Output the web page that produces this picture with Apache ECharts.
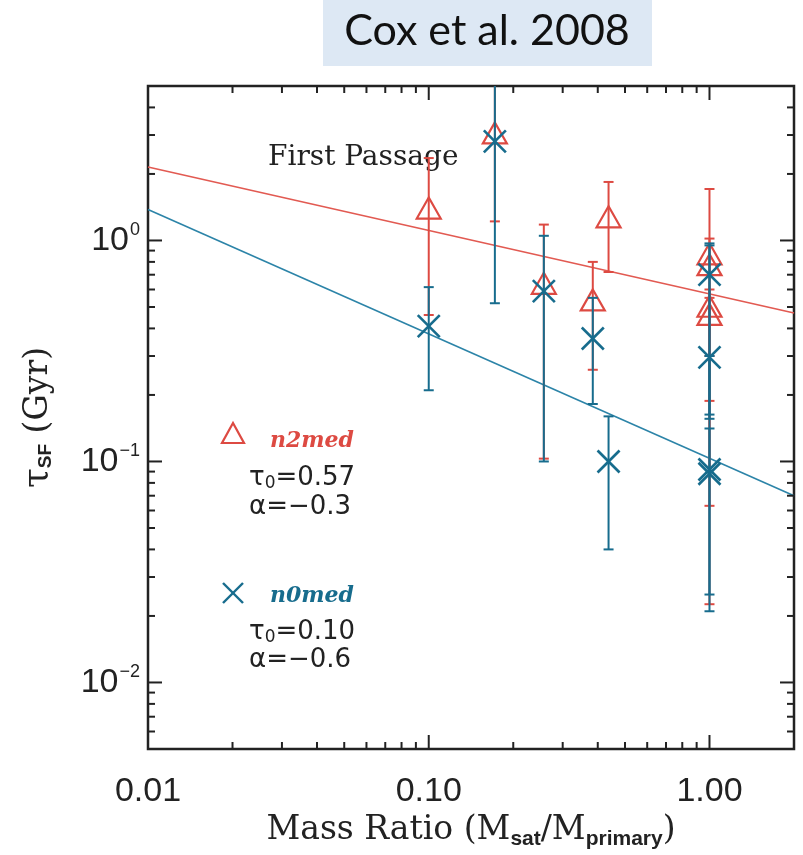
<!DOCTYPE html>
<html><head><meta charset="utf-8">
<script src="https://cdn.jsdelivr.net/npm/echarts@6/dist/echarts.min.js"></script>
<style>html,body{margin:0;padding:0;background:#fff}#c{width:803px;height:855px}</style>
</head><body><div id="c"></div>
<script>
// ---- data ----
const redX  = [0.10, 0.172, 0.257, 0.384, 0.437, 1.0, 1.0, 1.0, 1.0];
const redY  = [1.38, 3.02, 0.63, 0.53, 1.26, 0.857, 0.765, 0.496, 0.456];
const redLo = [0.46, 1.22, 0.103, 0.26, 0.72, 0.188, 0.063, 0.0226, 0.30];
const redHi = [2.36, 8.0, 1.18, 0.80, 1.84, 1.71, 1.02, 0.60, 0.55];

const blueX  = [0.10, 0.172, 0.257, 0.384, 0.437, 1.0, 1.0, 1.0, 1.0];
const blueY  = [0.41, 2.81, 0.59, 0.36, 0.10, 0.70, 0.296, 0.092, 0.088];
const blueLo = [0.21, 0.52, 0.10, 0.182, 0.04, 0.163, 0.156, 0.025, 0.021];
const blueHi = [0.615, 8.0, 1.05, 0.55, 0.16, 0.97, 0.95, 0.141, 0.30];

const redFitX = [0.01, 2.0];
const redFitY = [2.15, 0.47];
const blueFitX = [0.01, 2.0];
const blueFitY = [1.38, 0.07];

const xRange = [0.01, 2.0];
const yRange = [0.005, 5.0];
const xMajorTicks = [0.01, 0.1, 1];
const xTickLabels = ['0.01', '0.10', '1.00'];
const xMinorTicks = [0.02,0.03,0.04,0.05,0.06,0.07,0.08,0.09,0.2,0.3,0.4,0.5,0.6,0.7,0.8,0.9];
const yMajorTicks = [0.01, 0.1, 1];
const yTickExponents = ['−2', '−1', '0'];
const yMinorTicks = [0.006,0.007,0.008,0.009,0.02,0.03,0.04,0.05,0.06,0.07,0.08,0.09,0.2,0.3,0.4,0.5,0.6,0.7,0.8,0.9,2,3,4];

// ---- styling ----
const RED = '#dd4a42', BLUE = '#176c8d', RED_LINE = '#e25a52', BLUE_LINE = '#2c84a8';
const FRAME = '#222';

function nearPow(v, arr) {
  for (let i = 0; i < arr.length; i++) if (Math.abs(Math.log10(v) - Math.log10(arr[i])) < 1e-6) return i;
  return -1;
}

function errRender(color) {
  return function (params, api) {
    const x = api.value(0), lo = api.value(2), hi = api.value(3);
    const cs = params.coordSys;
    const pLo = api.coord([x, lo]), pHi = api.coord([x, hi]);
    const top = Math.max(pHi[1], cs.y), bot = Math.min(pLo[1], cs.y + cs.height);
    const ch = [{ type: 'line', shape: { x1: pLo[0], y1: bot, x2: pLo[0], y2: top }, style: { stroke: color, lineWidth: 2 } }];
    const cw = 5;
    if (pHi[1] >= cs.y) ch.push({ type: 'line', shape: { x1: pHi[0] - cw, y1: pHi[1], x2: pHi[0] + cw, y2: pHi[1] }, style: { stroke: color, lineWidth: 2 } });
    if (pLo[1] <= cs.y + cs.height) ch.push({ type: 'line', shape: { x1: pLo[0] - cw, y1: pLo[1], x2: pLo[0] + cw, y2: pLo[1] }, style: { stroke: color, lineWidth: 2 } });
    return { type: 'group', children: ch };
  };
}
function triRender(params, api) {
  const p = api.coord([api.value(0), api.value(1)]);
  return { type: 'polygon', shape: { points: [[p[0], p[1] - 12], [p[0] - 12, p[1] + 9], [p[0] + 12, p[1] + 9]] },
    style: { fill: 'none', stroke: RED, lineWidth: 2.2 } };
}
function xRender(params, api) {
  const p = api.coord([api.value(0), api.value(1)]);
  const s = 11;
  return { type: 'group', children: [
    { type: 'line', shape: { x1: p[0] - s, y1: p[1] - s, x2: p[0] + s, y2: p[1] + s }, style: { stroke: BLUE, lineWidth: 2.6 } },
    { type: 'line', shape: { x1: p[0] - s, y1: p[1] + s, x2: p[0] + s, y2: p[1] - s }, style: { stroke: BLUE, lineWidth: 2.6 } }
  ] };
}
function xTickRender(params, api) {
  const cs = params.coordSys;
  const px = api.coord([api.value(0), 1])[0];
  const len = api.value(1) ? 14 : 7;
  const b = cs.y + cs.height, t = cs.y;
  return { type: 'group', children: [
    { type: 'line', shape: { x1: px, y1: b, x2: px, y2: b - len }, style: { stroke: FRAME, lineWidth: 2 } },
    { type: 'line', shape: { x1: px, y1: t, x2: px, y2: t + len }, style: { stroke: FRAME, lineWidth: 2 } }
  ] };
}
function yTickRender(params, api) {
  const cs = params.coordSys;
  const py = api.coord([1, api.value(0)])[1];
  const len = api.value(1) ? 14 : 7;
  const l = cs.x, r = cs.x + cs.width;
  return { type: 'group', children: [
    { type: 'line', shape: { x1: l, y1: py, x2: l + len, y2: py }, style: { stroke: FRAME, lineWidth: 2 } },
    { type: 'line', shape: { x1: r, y1: py, x2: r - len, y2: py }, style: { stroke: FRAME, lineWidth: 2 } }
  ] };
}

const zip4 = (a, b, c, d) => a.map((v, i) => [v, b[i], c[i], d[i]]);
const xTickData = xMajorTicks.map(v => [v, 1]).concat(xMinorTicks.map(v => [v, 0]));
const yTickData = yMajorTicks.map(v => [v, 1]).concat(yMinorTicks.map(v => [v, 0]));

const serif = 'DejaVu Serif';
const sans = 'Liberation Sans';

const chart = echarts.init(document.getElementById('c'));
chart.setOption({
  animation: false,
  backgroundColor: '#fff',
  grid: { left: 148, right: 9, top: 86, bottom: 98, show: true, borderColor: FRAME, borderWidth: 2.5, backgroundColor: 'transparent' },
  xAxis: {
    type: 'log', logBase: 10, min: xRange[0], max: xRange[1],
    axisLine: { show: false }, axisTick: { show: false }, splitLine: { show: false },
    axisLabel: {
      margin: 26, fontFamily: sans, fontSize: 34, color: '#222',
      formatter: v => { const i = nearPow(v, xMajorTicks); return i < 0 ? '' : xTickLabels[i]; }
    },
    name: '{m|Mass Ratio (M}{s|sat}{m|/M}{s|primary}{m|)}',
    nameLocation: 'middle', nameGap: 62,
    nameTextStyle: {
      rich: {
        m: { fontFamily: serif, fontSize: 33, color: '#222', verticalAlign: 'middle' },
        s: { fontFamily: sans, fontWeight: 'bold', fontSize: 21, color: '#222', verticalAlign: 'middle', padding: [18, 0, 0, 0] }
      }
    }
  },
  yAxis: {
    type: 'log', logBase: 10, min: yRange[0], max: yRange[1],
    axisLine: { show: false }, axisTick: { show: false }, splitLine: { show: false },
    axisLabel: {
      margin: 8,
      formatter: v => { const i = nearPow(v, yMajorTicks); return i < 0 ? '' : '{b|10}{e|' + yTickExponents[i] + '}'; },
      rich: {
        b: { fontFamily: sans, fontSize: 34, color: '#222', verticalAlign: 'middle' },
        e: { fontFamily: sans, fontSize: 18, color: '#222', verticalAlign: 'middle', padding: [0, 0, 20, 1] }
      }
    },
    name: '{t|τ}{s|SF}{m| (Gyr)}',
    nameLocation: 'middle', nameGap: 92, nameRotate: 90,
    nameTextStyle: {
      rich: {
        t: { fontFamily: serif, fontSize: 36, color: '#222', verticalAlign: 'middle' },
        s: { fontFamily: sans, fontWeight: 'bold', fontSize: 19, color: '#222', verticalAlign: 'middle', padding: [16, 0, 0, 0] },
        m: { fontFamily: serif, fontSize: 33, color: '#222', verticalAlign: 'middle' }
      }
    }
  },
  series: [
    { type: 'line', data: redFitX.map((v, i) => [v, redFitY[i]]), symbol: 'none', lineStyle: { color: RED_LINE, width: 1.6 }, z: 2 },
    { type: 'line', data: blueFitX.map((v, i) => [v, blueFitY[i]]), symbol: 'none', lineStyle: { color: BLUE_LINE, width: 1.6 }, z: 2 },
    { type: 'custom', renderItem: errRender(RED), data: zip4(redX, redY, redLo, redHi), z: 3 },
    { type: 'custom', renderItem: triRender, data: zip4(redX, redY, redLo, redHi), z: 4 },
    { type: 'custom', renderItem: errRender(BLUE), data: zip4(blueX, blueY, blueLo, blueHi), z: 5 },
    { type: 'custom', renderItem: xRender, data: zip4(blueX, blueY, blueLo, blueHi), z: 6 },
    { type: 'custom', renderItem: xTickRender, data: xTickData, z: 7 },
    { type: 'custom', renderItem: yTickRender, data: yTickData, z: 7 }
  ],
  graphic: [
    { type: 'rect', left: 323, top: 0, shape: { width: 329, height: 66 }, style: { fill: '#dde8f4' } },
    { type: 'text', x: 487, y: 31, style: { text: 'Cox et al. 2008', font: '43px Lato', fill: '#111', align: 'center', verticalAlign: 'middle' } },
    { type: 'text', x: 268, y: 158, style: { text: 'First Passage', font: '28px "DejaVu Serif"', fill: '#222', align: 'left', verticalAlign: 'middle' } },
    { type: 'polygon', shape: { points: [[233, 423], [222, 443], [244, 443]] }, style: { fill: 'none', stroke: RED, lineWidth: 2.2 } },
    { type: 'text', x: 270, y: 441, style: { text: 'n2med', font: 'italic bold 22px "DejaVu Serif"', fill: RED, align: 'left', verticalAlign: 'middle' } },
    { type: 'text', x: 249, y: 478, style: { text: '{t|τ}{s|0}{t|=0.57}', verticalAlign: 'middle', rich: {
      t: { fontFamily: 'DejaVu Sans', fontSize: 26, fill: '#222', verticalAlign: 'middle' },
      s: { fontFamily: 'DejaVu Sans', fontSize: 17, fill: '#222', verticalAlign: 'middle', padding: [12, 0, 0, 0] } } } },
    { type: 'text', x: 249, y: 507, style: { text: 'α=−0.3', font: '26px "DejaVu Sans"', fill: '#222', verticalAlign: 'middle' } },
    { type: 'line', shape: { x1: 223, y1: 583, x2: 243, y2: 603 }, style: { stroke: BLUE, lineWidth: 2.4 } },
    { type: 'line', shape: { x1: 223, y1: 603, x2: 243, y2: 583 }, style: { stroke: BLUE, lineWidth: 2.4 } },
    { type: 'text', x: 270, y: 596, style: { text: 'n0med', font: 'italic bold 22px "DejaVu Serif"', fill: BLUE, align: 'left', verticalAlign: 'middle' } },
    { type: 'text', x: 249, y: 632, style: { text: '{t|τ}{s|0}{t|=0.10}', verticalAlign: 'middle', rich: {
      t: { fontFamily: 'DejaVu Sans', fontSize: 26, fill: '#222', verticalAlign: 'middle' },
      s: { fontFamily: 'DejaVu Sans', fontSize: 17, fill: '#222', verticalAlign: 'middle', padding: [12, 0, 0, 0] } } } },
    { type: 'text', x: 249, y: 660, style: { text: 'α=−0.6', font: '26px "DejaVu Sans"', fill: '#222', verticalAlign: 'middle' } }
  ]
});
</script></body></html>
